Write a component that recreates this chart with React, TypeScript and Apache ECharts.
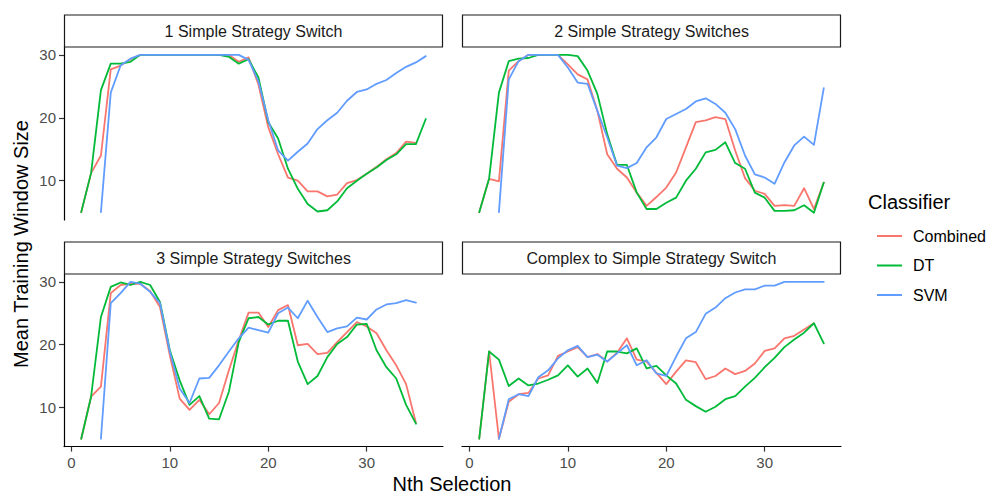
import React, { useEffect, useRef } from "react";
import * as echarts from "echarts";

// ---- data ----
const selections = [1, 2, 3, 4, 5, 6, 7, 8, 9, 10, 11, 12, 13, 14, 15, 16, 17, 18, 19, 20, 21, 22, 23, 24, 25, 26, 27, 28, 29, 30, 31, 32, 33, 34, 35, 36];
const xTicks = [0, 10, 20, 30];
const yTicks = [10, 20, 30];
const classifiers = ["Combined", "DT", "SVM"];
const panelTitles = [
  "1 Simple Strategy Switch",
  "2 Simple Strategy Switches",
  "3 Simple Strategy Switches",
  "Complex to Simple Strategy Switch",
];

const p1Combined = [5, 11.2, 14, 27.7, 28.3, 29.3, 30, 30, 30, 30, 30, 30, 30, 30, 30, 30, 28.9, 29.6, 25.3, 18.5, 14.2, 10.5, 10, 8.3, 8.3, 7.5, 7.8, 9.6, 10.1, 11.1, 12.2, 13.4, 14.4, 16.2, 16, null];
const p1DT = [5, 11.2, 24.4, 28.6, 28.6, 28.9, 30, 30, 30, 30, 30, 30, 30, 30, 30, 29.7, 28.6, 29.3, 26.4, 19.3, 16.7, 11.9, 8.7, 6.3, 5.1, 5.3, 6.7, 8.8, 10, 11.1, 12.1, 13.3, 14.2, 15.8, 15.8, 19.8];
const p1SVM = [null, null, 5, 24, 28.3, 29.4, 30, 30, 30, 30, 30, 30, 30, 30, 30, 30, 30, 29.2, 25.8, 19.6, 14.8, 13.2, 14.6, 15.9, 18.2, 19.6, 20.8, 22.7, 24.1, 24.5, 25.4, 26, 27.1, 28.1, 28.8, 29.8];

const p2Combined = [5, 10.3, 9.9, 27.5, 29, 30, 30, 30, 30, 28.5, 26.9, 26.1, 21.1, 14.2, 11.9, 10.5, 8.1, 6, 7.4, 8.9, 11.3, 15.3, 19.3, 19.6, 20.1, 19.8, 14.8, 10.4, 8.4, 7.9, 6, 6.1, 6, 8.8, 5.5, 9.7];
const p2DT = [5, 10.3, 24, 29, 29.4, 29.5, 30, 30, 30, 30, 29.8, 27.5, 23.8, 17.4, 12.5, 12.5, 8.1, 5.5, 5.5, 6.5, 7.3, 10, 11.9, 14.5, 14.9, 16.1, 12.8, 11.9, 8.1, 7.3, 5.2, 5.2, 5.3, 6.1, 4.9, 9.7];
const p2SVM = [null, null, 5, 26.1, 29, 30, 30, 30, 30, 28, 25.6, 25.4, 21.1, 16.9, 12.4, 12, 12.8, 15.3, 16.9, 19.8, 20.6, 21.4, 22.6, 23.1, 22.2, 20.8, 18.2, 14, 11, 10.5, 9.5, 12.9, 15.6, 17, 15.7, 24.7];

const p3Combined = [5, 11.7, 13.3, 28.2, 29.5, 29.7, 29.7, 28.5, 26, 18.3, 11.4, 9.6, 11.2, 8.9, 10.7, 15.9, 20.7, 25.1, 25.1, 22.8, 25.5, 26.3, 19.9, 20.1, 18.5, 18.7, 20.4, 22, 23.6, 22.9, 21.8, 19.1, 16.7, 13.7, 7.5, null];
const p3DT = [5, 11.7, 24.4, 29.2, 29.9, 29.5, 30, 29.5, 26.8, 19.1, 14.3, 10.4, 11.8, 8.2, 8.1, 12.5, 20.4, 24.2, 24.4, 23.2, 23.8, 23.8, 17.3, 13.7, 15, 18, 20.1, 21.2, 23.2, 23.3, 19.1, 16.4, 14.6, 10.4, 7.4, null];
const p3SVM = [null, null, 5, 26.6, 28.2, 30, 29.7, 28.4, 26.6, 18.9, 13, 10.7, 14.6, 14.7, 16.7, 18.9, 21, 22.7, 22.3, 21.9, 25, 25.9, 24.2, 27, 24.4, 22, 22.6, 22.9, 24.3, 24, 25.6, 26.4, 26.6, 27.1, 26.7, null];

const p4Combined = [5, 18.9, 5, 10.9, 12.1, 12.3, 14.6, 15.1, 18.2, 18.9, 19.6, 18, 18.5, 17.3, 18.7, 21, 17.6, 17.3, 15.5, 13.7, 15.7, 17.5, 17.2, 14.5, 15, 16.2, 15.3, 15.8, 17, 19, 19.4, 21, 21.4, 22.4, 23.4, null];
const p4DT = [5, 18.9, 17.6, 13.4, 14.6, 13.5, 13.8, 14.4, 15.1, 16.7, 14.9, 16.2, 13.9, 18.9, 18.9, 18.6, 19.4, 16.2, 16.6, 15.1, 13.8, 11.2, 10.2, 9.3, 10.1, 11.3, 11.8, 13.3, 14.7, 16.4, 17.9, 19.6, 20.8, 21.9, 23.4, 20.2];
const p4SVM = [null, null, 5, 11.3, 12.1, 11.8, 14.8, 15.9, 17.8, 19.1, 19.8, 18, 18.4, 17.3, 18.6, 19.9, 16.7, 17.5, 15.4, 15, 18.1, 21, 22, 24.9, 25.9, 27.4, 28.3, 28.8, 28.8, 29.4, 29.4, 30, 30, 30, 30, 30];

const panelData = [
  [p1Combined, p1DT, p1SVM],
  [p2Combined, p2DT, p2SVM],
  [p3Combined, p3DT, p3SVM],
  [p4Combined, p4DT, p4SVM],
];

// ---- styles / layout ----
const COLORS = ["#F8766D", "#00BA38", "#619CFF"];
const FONT = "Liberation Sans, Arial, Helvetica, sans-serif";
const X_MIN = -0.75;
const X_MAX = 37.75;
const Y_MIN = 3.75;
const Y_MAX = 31.25;
const PANELS = [
  { left: 64, top: 47, width: 379, height: 173, showX: false, showY: true },
  { left: 462, top: 47, width: 379, height: 173, showX: false, showY: false },
  { left: 64, top: 274, width: 379, height: 172.6, showX: true, showY: true },
  { left: 462, top: 274, width: 379, height: 172.6, showX: true, showY: false },
];
const STRIP_H = 32;

export default function App() {
  const ref = useRef<HTMLDivElement>(null);

  useEffect(() => {
    if (!ref.current) return;
    const chart = echarts.init(ref.current, undefined, { renderer: "svg" });

    const grids = PANELS.map((p) => ({
      left: p.left,
      top: p.top,
      width: p.width,
      height: p.height,
      containLabel: false,
    }));

    const xAxes = PANELS.map((p, i) => ({
      type: "value",
      gridIndex: i,
      min: X_MIN,
      max: X_MAX,
      splitLine: { show: false },
      axisLine: { show: p.showX, onZero: false, lineStyle: { color: "#000", width: 1.2 } },
      axisTick: { show: p.showX, length: 5, customValues: xTicks, lineStyle: { color: "#333", width: 1.2 } },
      axisLabel: {
        show: p.showX,
        customValues: xTicks,
        margin: 8,
        color: "#4d4d4d",
        fontSize: 15,
        fontFamily: FONT,
      },
    }));

    const yAxes = PANELS.map((p, i) => ({
      type: "value",
      gridIndex: i,
      min: Y_MIN,
      max: Y_MAX,
      splitLine: { show: false },
      axisLine: { show: p.showY, onZero: false, lineStyle: { color: "#000", width: 1.2 } },
      axisTick: { show: p.showY, length: 5, customValues: yTicks, lineStyle: { color: "#333", width: 1.2 } },
      axisLabel: {
        show: p.showY,
        customValues: yTicks,
        margin: 8,
        color: "#4d4d4d",
        fontSize: 15,
        fontFamily: FONT,
      },
    }));

    const series: any[] = [];
    panelData.forEach((group, pi) => {
      group.forEach((vals, ci) => {
        const pts: number[][] = [];
        selections.forEach((x, k) => {
          const v = vals[k];
          if (v !== null && v !== undefined) pts.push([x, v]);
        });
        series.push({
          type: "line",
          name: classifiers[ci],
          xAxisIndex: pi,
          yAxisIndex: pi,
          data: pts,
          showSymbol: false,
          symbol: "none",
          color: COLORS[ci],
          lineStyle: { color: COLORS[ci], width: 1.8, join: "round", cap: "round" },
          emphasis: { disabled: true },
          silent: true,
          z: 2 + ci,
        });
      });
    });

    const graphics: any[] = [];
    PANELS.forEach((p, i) => {
      graphics.push({
        type: "rect",
        shape: { x: p.left + 0.5, y: p.top - STRIP_H, width: p.width - 1, height: STRIP_H },
        style: { fill: "#fff", stroke: "#1a1a1a", lineWidth: 1.2 },
        z: 10,
      });
      graphics.push({
        type: "text",
        x: p.left + p.width / 2,
        y: p.top - STRIP_H / 2,
        style: {
          text: panelTitles[i],
          fill: "#1a1a1a",
          font: `16px ${FONT}`,
          align: "center",
          verticalAlign: "middle",
        },
        z: 11,
      });
    });
    graphics.push({
      type: "text",
      x: 21,
      y: 244,
      rotation: Math.PI / 2,
      style: {
        text: "Mean Training Window Size",
        fill: "#000",
        font: `20px ${FONT}`,
        align: "center",
        verticalAlign: "middle",
      },
    });
    graphics.push({
      type: "text",
      x: 452,
      y: 484,
      style: {
        text: "Nth Selection",
        fill: "#000",
        font: `20px ${FONT}`,
        align: "center",
        verticalAlign: "middle",
      },
    });
    graphics.push({
      type: "text",
      x: 868,
      y: 202,
      style: {
        text: "Classifier",
        fill: "#000",
        font: `20px ${FONT}`,
        align: "left",
        verticalAlign: "middle",
      },
    });

    chart.setOption({
      animation: false,
      backgroundColor: "#fff",
      grid: grids,
      xAxis: xAxes,
      yAxis: yAxes,
      series,
      legend: {
        data: classifiers,
        orient: "vertical",
        left: 872,
        top: 223,
        itemWidth: 25,
        itemHeight: 2,
        itemGap: 13.5,
        icon: "rect",
        selectedMode: false,
        textStyle: {
          fontSize: 16,
          lineHeight: 16,
          color: "#000",
          fontFamily: FONT,
          padding: [0, 0, 0, 6],
        },
      },
      graphic: graphics,
    });

    return () => chart.dispose();
  }, []);

  return (
    <div
      ref={ref}
      style={{ position: "fixed", left: 0, top: 0, width: 987, height: 494, background: "#fff" }}
    />
  );
}
